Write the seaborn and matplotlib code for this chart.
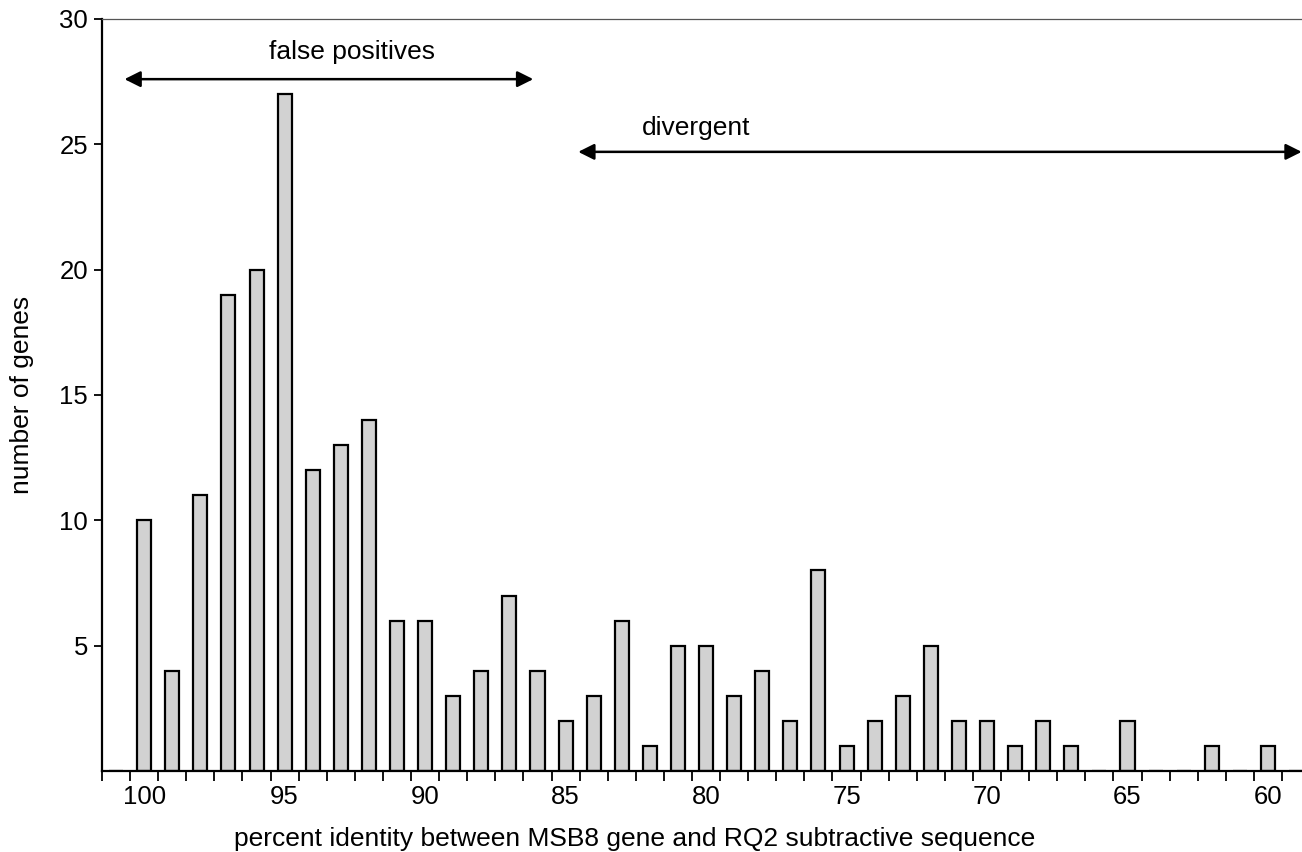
import seaborn as sns
import pandas as pd
import matplotlib.pyplot as plt
import numpy as np

# percent identity bins, left to right (101 and 59 are empty edge bins)
pct = list(range(101, 58, -1))
counts = [0, 10, 4, 11, 19, 20, 27, 12, 13, 14, 6, 6, 3, 4, 7, 4, 2, 3, 6, 1,
          5, 5, 3, 4, 2, 8, 1, 2, 3, 5, 2, 2, 1, 2, 1, 0, 2, 0, 0, 1, 0, 1, 0]
tick_pct = [100, 95, 90, 85, 80, 75, 70, 65, 60]
y_ticks = [5, 10, 15, 20, 25, 30]

# annotation spans, in percent identity
fp_span = (100.7, 86.15)
div_span = (84.55, 58.8)

df = pd.DataFrame({"pct": [str(p) for p in pct], "genes": counts})

sns.set_style("white")
plt.rcParams["font.family"] = ["Liberation Sans", "DejaVu Sans"]
plt.rcParams["text.color"] = "black"
plt.rcParams["axes.labelcolor"] = "black"
plt.rcParams["xtick.color"] = "black"
plt.rcParams["ytick.color"] = "black"

fig = plt.figure(figsize=(13.02, 8.52), dpi=100)
ax = fig.add_axes([102 / 1302, 81 / 852, 1200 / 1302, 752 / 852])

sns.barplot(data=df, x="pct", y="genes", order=df["pct"], color="#d2d2d2",
            edgecolor="black", linewidth=1.6, width=0.5, saturation=1, ax=ax)


def pos(p):
    return pct[0] - p


n = len(pct)
ax.set_xlim(-0.5, n - 1.5 + 20 / 28.1)
ax.set_ylim(0, 30)

ax.set_xticks([pos(p) for p in tick_pct])
ax.set_xticklabels([str(p) for p in tick_pct], fontsize=18.5)
ax.set_xticks(np.arange(-0.5, n - 1, 1.0), minor=True)
ax.tick_params(axis="x", which="major", length=0, pad=10)
ax.tick_params(axis="x", which="minor", length=7, width=1.3, direction="out",
               bottom=True)
ax.set_yticks(y_ticks)
ax.set_yticklabels([str(v) for v in y_ticks], fontsize=18.5)
ax.tick_params(axis="y", length=6, width=1.3, direction="out", left=True, pad=4)

for s in ["left", "bottom"]:
    ax.spines[s].set_color("black")
    ax.spines[s].set_linewidth(1.6)
ax.spines["top"].set_color("#555555")
ax.spines["top"].set_linewidth(0.9)
ax.spines["right"].set_visible(False)

ax.set_xlabel("percent identity between MSB8 gene and RQ2 subtractive sequence",
              fontsize=19)
ax.xaxis.set_label_coords(0.444, -0.075)
ax.set_ylabel("number of genes", fontsize=19)
ax.yaxis.set_label_coords(-0.057, 0.5)

arrow = dict(arrowstyle="<|-|>", color="black", lw=1.8, mutation_scale=24,
             shrinkA=0, shrinkB=0)
ax.annotate("", xy=(pos(fp_span[1]), 27.6), xytext=(pos(fp_span[0]), 27.6),
            arrowprops=arrow, annotation_clip=False)
ax.annotate("", xy=(pos(div_span[1]), 24.7), xytext=(pos(div_span[0]), 24.7),
            arrowprops=arrow, annotation_clip=False)
ax.text(pos(92.6), 28.7, "false positives", fontsize=19, ha="center", va="center")
ax.text(pos(80.35), 25.65, "divergent", fontsize=19, ha="center", va="center")

fig.savefig("out.png", dpi=100)
